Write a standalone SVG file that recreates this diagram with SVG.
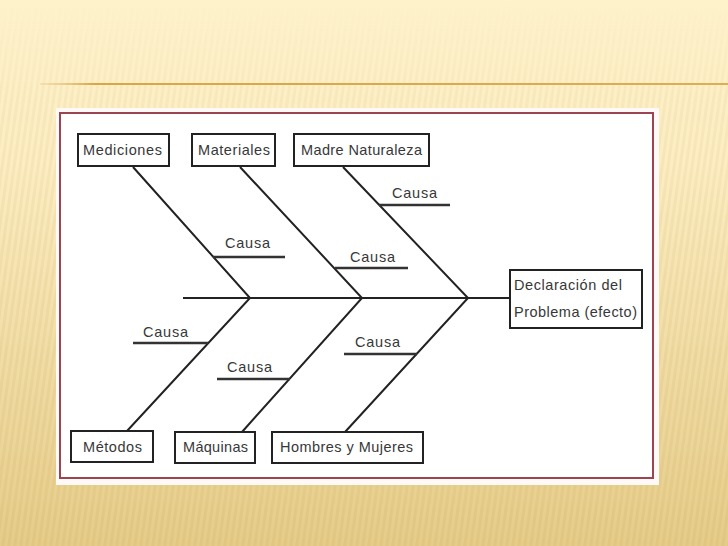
<svg xmlns="http://www.w3.org/2000/svg" width="728" height="546" viewBox="0 0 728 546">
<defs>
<linearGradient id="bg" x1="0" y1="0" x2="0" y2="1">
<stop offset="0" stop-color="#fef2cb"/>
<stop offset="0.3" stop-color="#fcedc2"/>
<stop offset="1" stop-color="#e6cc89"/>
</linearGradient>
<linearGradient id="rule" x1="0" y1="0" x2="1" y2="0">
<stop offset="0" stop-color="#e8c27a" stop-opacity="0.3"/>
<stop offset="0.08" stop-color="#d9a548"/>
<stop offset="1" stop-color="#dcae55"/>
</linearGradient>
<linearGradient id="fade" x1="0" y1="0" x2="0" y2="1">
<stop offset="0" stop-color="#fff" stop-opacity="0"/>
<stop offset="0.2" stop-color="#fff" stop-opacity="0.6"/>
<stop offset="1" stop-color="#fff" stop-opacity="1"/>
</linearGradient>
<pattern id="stripes" width="6" height="40" patternUnits="userSpaceOnUse" patternTransform="skewX(-8)">
<rect width="3" height="40" fill="#c9a660" opacity="0.16"/>
</pattern>
<mask id="stripeMask">
<rect width="728" height="546" fill="url(#fade)"/>
</mask>
</defs>
<style>
.box{fill:#ffffff;stroke:#222;stroke-width:2}
.ln{stroke:#222;stroke-width:2;fill:none}
.ul{stroke:#333;stroke-width:2.5}
.t{font-family:"Liberation Sans",Arial,sans-serif;font-size:14.5px;fill:#383838}
</style>
<rect width="728" height="546" fill="url(#bg)"/>
<rect width="728" height="546" fill="url(#stripes)" mask="url(#stripeMask)"/>
<rect x="40" y="83" width="688" height="2" fill="url(#rule)"/>
<rect x="56" y="108" width="603" height="377" fill="#fffaf8"/>
<rect x="60" y="113" width="593" height="365" fill="#ffffff" stroke="#9c4450" stroke-width="2"/>

<g id="connectors">
<line class="ln" x1="183" y1="298" x2="510" y2="298"/>
<polyline class="ln" points="133,167 250,298 127,431"/>
<polyline class="ln" points="240,167 362,298 242,432"/>
<polyline class="ln" points="343,167 468,298 345,432"/>
<line class="ul" x1="213" y1="257" x2="285" y2="257"/>
<line class="ul" x1="335" y1="268" x2="408" y2="268"/>
<line class="ul" x1="379" y1="205" x2="450" y2="205"/>
<line class="ul" x1="133" y1="343" x2="208" y2="343"/>
<line class="ul" x1="217" y1="379" x2="290" y2="379"/>
<line class="ul" x1="344" y1="354" x2="417" y2="354"/>
</g>

<g id="causas">
<text class="t" x="225" y="248" textLength="45" lengthAdjust="spacing">Causa</text>
<text class="t" x="350" y="262" textLength="45" lengthAdjust="spacing">Causa</text>
<text class="t" x="392" y="198" textLength="45" lengthAdjust="spacing">Causa</text>
<text class="t" x="143" y="337" textLength="45" lengthAdjust="spacing">Causa</text>
<text class="t" x="227" y="372" textLength="45" lengthAdjust="spacing">Causa</text>
<text class="t" x="355" y="347" textLength="45" lengthAdjust="spacing">Causa</text>
</g>

<g id="mediciones">
<rect class="box" x="78" y="134" width="91" height="32"/>
<text class="t" x="83" y="155" textLength="79" lengthAdjust="spacing">Mediciones</text>
</g>
<g id="materiales">
<rect class="box" x="192" y="134" width="83" height="32"/>
<text class="t" x="198" y="155" textLength="72" lengthAdjust="spacing">Materiales</text>
</g>
<g id="madre-naturaleza">
<rect class="box" x="294" y="134" width="135" height="32"/>
<text class="t" x="301" y="155" textLength="121" lengthAdjust="spacing">Madre Naturaleza</text>
</g>
<g id="efecto">
<rect class="box" x="510" y="270" width="132" height="58"/>
<text class="t" x="514" y="290" textLength="108" lengthAdjust="spacing">Declaración del</text>
<text class="t" x="514" y="317" textLength="123" lengthAdjust="spacing">Problema (efecto)</text>
</g>
<g id="metodos">
<rect class="box" x="71" y="431" width="82" height="31"/>
<text class="t" x="83" y="452" textLength="59" lengthAdjust="spacing">Métodos</text>
</g>
<g id="maquinas">
<rect class="box" x="175" y="432" width="80" height="31"/>
<text class="t" x="183" y="452" textLength="65" lengthAdjust="spacing">Máquinas</text>
</g>
<g id="hombres-mujeres">
<rect class="box" x="272" y="432" width="151" height="31"/>
<text class="t" x="280" y="452" textLength="133" lengthAdjust="spacing">Hombres y Mujeres</text>
</g>
</svg>
